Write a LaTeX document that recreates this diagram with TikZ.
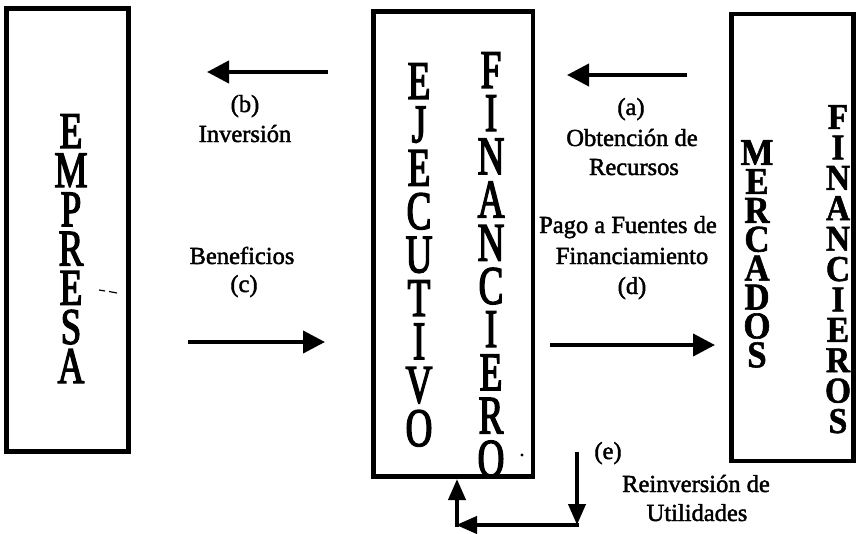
\documentclass[tikz,border=0pt]{standalone}
\usepackage{fontspec}
\setmainfont{Liberation Serif}
\newfontfamily\labfont[FakeBold=1.8]{Liberation Serif}
\newfontfamily\condfont[FakeStretch=0.68,FakeBold=2.5]{Liberation Serif}
\newfontfamily\empfont[FakeStretch=0.72,FakeBold=2.5]{Liberation Serif}
\newfontfamily\mercfont[FakeStretch=0.92,FakeBold=1.5]{Liberation Serif}
\usetikzlibrary{arrows.meta}
\begin{document}
\begin{tikzpicture}[x=1pt,y=-1pt,
  box/.style={draw, line width=4.5pt, inner sep=0pt},
  flow/.style={line width=4pt, -{Triangle[length=22pt,width=22pt]}},
  flowsm/.style={line width=4pt, -{Triangle[length=21pt,width=17pt]}},
  vword/.style={inner sep=0pt, align=center, anchor=north},
  lab/.style={font=\labfont\fontsize{24.5}{29}\selectfont, anchor=base, inner sep=0pt}]
\useasboundingbox (0,0) rectangle (857,533);

% boxes
\node[box, minimum width=122pt, minimum height=443pt] (emp) at (67.5,230) {};
\node[box, minimum width=159.5pt, minimum height=465pt] (exe) at (453.25,244) {};
\node[box, minimum width=122pt, minimum height=447pt] (mer) at (792.5,237.5) {};

% vertical words
\node[vword, font=\empfont\fontsize{51.4}{39.2}\selectfont] (wemp) at (71,114) {E\\M\\P\\R\\E\\S\\A};
\node[vword, font=\condfont\fontsize{54.4}{43.4}\selectfont] (wej) at (419,63) {E\\J\\E\\C\\U\\T\\I\\V\\O};
\node[vword, font=\condfont\fontsize{54.4}{43.2}\selectfont] (wfi) at (491,52) {F\\I\\N\\A\\N\\C\\I\\E\\R\\O};
\node[vword, font=\mercfont\bfseries\fontsize{37.8}{28.9}\selectfont] (wme) at (757,140) {M\\E\\R\\C\\A\\D\\O\\S};
\node[vword, font=\mercfont\bfseries\fontsize{36.3}{30.4}\selectfont] (wfs) at (838,105) {F\\I\\N\\A\\N\\C\\I\\E\\R\\O\\S};

% labels
\node[lab] (lb) at (245,112) {(b)};
\node[lab] (linv) at (245,142) {Inversión};
\node[lab] (la) at (631,115) {(a)};
\node[lab] (lobt) at (632,146) {Obtención de};
\node[lab] (lrec) at (634,175) {Recursos};
\node[lab] (lben) at (242,264) {Beneficios};
\node[lab] (lc) at (244,292) {(c)};
\node[lab] (lpag) at (628,233) {Pago a Fuentes de};
\node[lab] (lfin) at (632,264) {Financiamiento};
\node[lab] (ld) at (632,294) {(d)};
\node[lab] (le) at (608,459) {(e)};
\node[lab] (lrei) at (696,492) {Reinversión de};
\node[lab] (luti) at (697,521) {Utilidades};

% connector end points
\coordinate (bS) at (328,72);
\coordinate (bE) at (207,72);
\coordinate (aS) at (687,75);
\coordinate (aE) at (567,75);
\coordinate (cS) at (188,342);
\coordinate (cE) at (325,342);
\coordinate (dS) at (550,345);
\coordinate (dE) at (715,345);
\coordinate (eS) at (577,452);
\coordinate (eC) at (577,525);
\coordinate (eH) at (579,525);
\coordinate (eL) at (456,525);
\coordinate (eU) at (457,527);
\coordinate (eT) at (457,479);

\draw[flow] (bS) -- (bE);
\draw[flow] (aS) -- (aE);
\draw[flow] (cS) -- (cE);
\draw[flow] (dS) -- (dE);
\draw[flowsm] (eS) -- (eC);
\draw[flowsm] (eH) -- (eL);
\draw[flowsm] (eU) -- (eT);

% scan marks
\draw[line width=1.2pt] (99,290) -- (105,291) (109,291.5) -- (117,293);
\fill (522,455) circle (1.6pt);
\end{tikzpicture}
\end{document}
